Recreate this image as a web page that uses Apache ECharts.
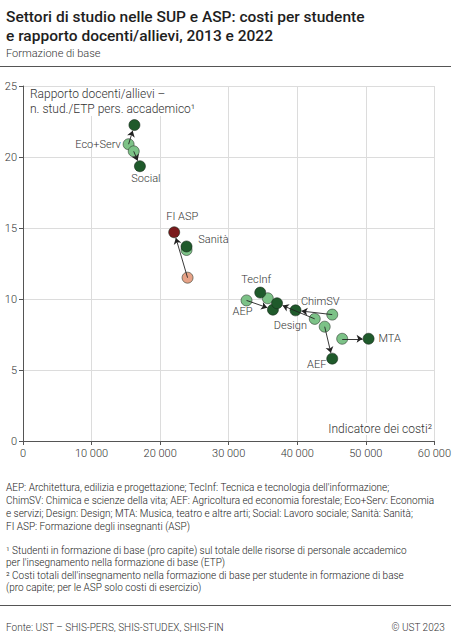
<!DOCTYPE html>
<html><head><meta charset="utf-8">
<script src="https://cdn.jsdelivr.net/npm/echarts@6/dist/echarts.min.js"></script>
<style>html,body{margin:0;padding:0;background:#fff}#c{width:454px;height:632px}</style>
</head><body><div id="c"></div>
<script>
const categories = ['Eco+Serv','Social','FI ASP','Sanità','TecInf','AEP','Design','ChimSV','AEF','MTA'];
const cost2013  = [15400,16150,24000,23850,35700,32600,42550,45100,44000,46550];
const ratio2013 = [20.9, 20.4, 11.5, 13.45,10.05,9.9, 8.6, 8.9, 8.05,7.2];
const cost2022  = [16250,17050,22050,23850,34600,36450,37050,39750,45100,50400];
const ratio2022 = [22.25,19.35,14.7, 13.7, 10.45,9.25,9.7, 9.2, 5.8, 7.2];
const xTicks = [0,10000,20000,30000,40000,50000,60000];
const yTicks = [0,5,10,15,20,25];

const FONT = 'Roboto';
const LW = 300;
const DARK = '#1f5a2b', LIGHT = '#7cc287', DARKRED = '#7a1a1c', SALMON = '#e6a287';
// label placement per category: [which point, position, offset]
const labelCfg = {
  'Eco+Serv': ['a','left',[2,0]],
  'Social':   ['b','bottom',[6,-3]],
  'FI ASP':   ['b','top',[8,0]],
  'Sanità':   ['b','right',[2,-7]],
  'TecInf':   ['b','top',[-4,2]],
  'AEP':      ['a','bottom',[-4,-4]],
  'Design':   ['a','left',[2,7]],
  'ChimSV':   ['a','top',[-12,2]],
  'AEF':      ['b','left',[4,6]],
  'MTA':      ['b','right',[0,0]]
};
const fmt = v => String(v).replace(/\B(?=(\d{3})+(?!\d))/g, ' ');

function pt(i, which) {
  const name = categories[i];
  const d = { name: name, value: which==='a' ? [cost2013[i], ratio2013[i]] : [cost2022[i], ratio2022[i]] };
  const c = labelCfg[name];
  if (c && c[0] === which) {
    d.label = { show: true, formatter: name, position: c[1], offset: c[2], distance: 4,
      color: '#333', fontSize: 11, fontWeight: LW, fontFamily: FONT };
  }
  return d;
}
const isFI = i => categories[i] === 'FI ASP';
const idx = categories.map((_, i) => i);

const R = 5.5;
const chart = echarts.init(document.getElementById('c'), null, {renderer: 'svg'});
const baseSeries = [
  { type: 'scatter', name: '2013', symbolSize: 2*R, z: 3,
    itemStyle: { color: p => isFI(p.dataIndex) ? SALMON : LIGHT, borderColor: '#2d3b2f', borderWidth: 0.6, opacity: 1 },
    data: idx.map(i => pt(i, 'a')) },
  { type: 'scatter', name: '2022', symbolSize: 2*R, z: 4,
    itemStyle: { color: p => isFI(p.dataIndex) ? DARKRED : DARK, borderColor: '#1a2a1c', borderWidth: 0.6, opacity: 1 },
    data: idx.map(i => pt(i, 'b')) }
];
const option = {
  animation: false,
  textStyle: { fontFamily: FONT },
  title: [
    { text: 'Settori di studio nelle SUP e ASP: costi per studente\ne rapporto docenti/allievi, 2013 e 2022',
      left: 1, top: 2, textStyle: { fontSize: 15.5, fontWeight: 500, color: '#1e1e1e', lineHeight: 19, fontFamily: FONT } },
    { text: 'Formazione di base', left: 1, top: 43, textStyle: { fontSize: 11, fontWeight: LW, color: '#333', fontFamily: FONT } },
    { text: "AEP: Architettura, edilizia e progettazione; TecInf: Tecnica e tecnologia dell'informazione;\nChimSV: Chimica e scienze della vita; AEF: Agricoltura ed economia forestale; Eco+Serv: Economia\ne servizi; Design: Design; MTA: Musica, teatro e altre arti; Social: Lavoro sociale; Sanità: Sanità;\nFI ASP: Formazione degli insegnanti (ASP)",
      left: 1, top: 476, textStyle: { fontSize: 10, fontWeight: LW, color: '#222', lineHeight: 13, fontFamily: FONT } },
    { text: "¹ Studenti in formazione di base (pro capite) sul totale delle risorse di personale accademico\nper l'insegnamento nella formazione di base (ETP)\n² Costi totali dell'insegnamento nella formazione di base per studente in formazione di base\n(pro capite; per le ASP solo costi di esercizio)",
      left: 1, top: 539, textStyle: { fontSize: 10, fontWeight: LW, color: '#222', lineHeight: 12.5, fontFamily: FONT } },
    { text: 'Fonte: UST – SHIS-PERS, SHIS-STUDEX, SHIS-FIN', left: 1, top: 617, textStyle: { fontSize: 10, fontWeight: LW, color: '#333', fontFamily: FONT } },
    { text: '© UST 2023', right: 4, top: 617, textStyle: { fontSize: 10, fontWeight: LW, color: '#333', fontFamily: FONT } }
  ],
  graphic: [
    { type: 'line', shape: { x1: 0, y1: 66.5, x2: 451, y2: 66.5 }, style: { stroke: '#555', lineWidth: 1 } },
    { type: 'line', shape: { x1: 0, y1: 605.5, x2: 451, y2: 605.5 }, style: { stroke: '#555', lineWidth: 1 } },
    { type: 'text', left: 30, top: 87, z: 10, style: { text: 'Rapporto docenti/allievi –\nn. stud./ETP pers. accademico¹', fontSize: 12, fontWeight: LW, lineHeight: 14.5, fill: '#333', fontFamily: FONT, backgroundColor: '#fff' } },
    { type: 'text', right: 22, top: 423, z: 10, style: { text: 'Indicatore dei costi²', fontSize: 12, fontWeight: LW, fill: '#333', fontFamily: FONT, backgroundColor: '#fff' } }
  ],
  grid: { left: 23, right: 19, top: 86, bottom: 191, containLabel: false },
  xAxis: {
    type: 'value', min: xTicks[0], max: xTicks[xTicks.length-1], interval: xTicks[1]-xTicks[0],
    axisLine: { show: true, lineStyle: { color: '#555', width: 1 } },
    axisTick: { show: true, length: 4, lineStyle: { color: '#555' } },
    splitLine: { show: true, lineStyle: { color: '#dcdcdc', width: 1 } },
    axisLabel: { formatter: v => fmt(v), fontSize: 11, fontWeight: LW, color: '#333', margin: 7, fontFamily: FONT }
  },
  yAxis: {
    type: 'value', min: yTicks[0], max: yTicks[yTicks.length-1], interval: yTicks[1]-yTicks[0],
    axisLine: { show: true, lineStyle: { color: '#555', width: 1 } },
    axisTick: { show: true, length: 4, lineStyle: { color: '#555' } },
    splitLine: { show: true, lineStyle: { color: '#dcdcdc', width: 1 } },
    axisLabel: { fontSize: 11, fontWeight: LW, color: '#333', margin: 6, fontFamily: FONT }
  },
  series: baseSeries
};
chart.setOption(option);

// arrows from 2013 to 2022, ending at the edge of the 2022 circle
const arrowData = [];
idx.forEach(i => {
  const a = chart.convertToPixel({ gridIndex: 0 }, [cost2013[i], ratio2013[i]]);
  const b = chart.convertToPixel({ gridIndex: 0 }, [cost2022[i], ratio2022[i]]);
  const dx = b[0]-a[0], dy = b[1]-a[1], L = Math.hypot(dx, dy);
  if (L < 2*R + 2) return;
  const e = [b[0] - dx/L*(R+0.5), b[1] - dy/L*(R+0.5)];
  arrowData.push({ coords: [[cost2013[i], ratio2013[i]], chart.convertFromPixel({ gridIndex: 0 }, e)] });
});
chart.setOption({ series: baseSeries.concat([{
  type: 'lines', coordinateSystem: 'cartesian2d', z: 5, silent: true,
  symbol: ['none', 'arrow'], symbolSize: 6,
  lineStyle: { color: '#222', width: 0.9, opacity: 1 },
  data: arrowData
}]) });
</script></body></html>
